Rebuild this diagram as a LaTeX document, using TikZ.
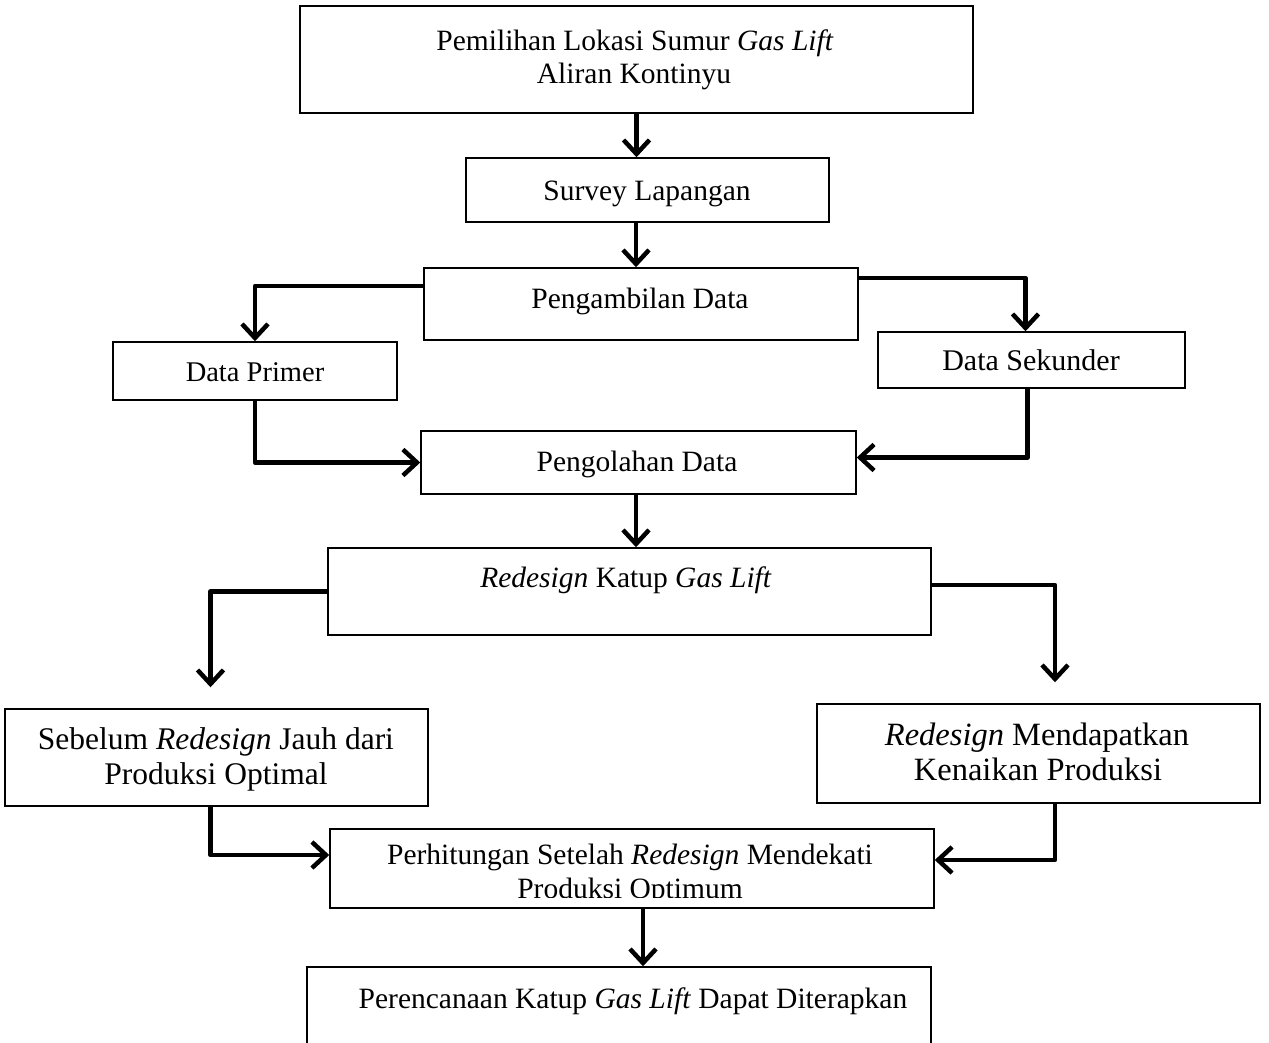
\documentclass[tikz,border=0pt]{standalone}
\usepackage{fontspec}
\setmainfont{Liberation Serif}
\usetikzlibrary{arrows.meta}
\begin{document}
\begin{tikzpicture}[x=1pt,y=-1pt,
  box/.style={draw, line width=1.5pt, inner sep=0pt, rectangle},
  lbl/.style={anchor=base, inner sep=0pt, font=\fontsize{29.5}{35}\selectfont},
  lblA/.style={lbl, font=\fontsize{28.5}{34}\selectfont},
  lblB/.style={lbl, font=\fontsize{30}{36}\selectfont},
  lblC/.style={lbl, font=\fontsize{31.5}{37}\selectfont},
  lblD/.style={lbl, font=\fontsize{32.5}{38}\selectfont},
  conn/.style={line width=4.5pt, line join=round, -{Straight Barb[length=14pt,width=26pt]}}]
\useasboundingbox (0,0) rectangle (1269,1042);
\clip (0,0) rectangle (1269,1042);
\fill[white] (0,0) rectangle (1269,1042);
% boxes
\node[box, minimum width=673, minimum height=107] (b1) at (636.5,59.5) {};
\node[box, minimum width=363, minimum height=64] (b2) at (647.5,190) {};
\node[box, minimum width=434, minimum height=72] (b3) at (641,304) {};
\node[box, minimum width=284, minimum height=58] (b4) at (255,371) {};
\node[box, minimum width=307, minimum height=56] (b5) at (1031.5,360) {};
\node[box, minimum width=435, minimum height=63] (b6) at (638.5,462.5) {};
\node[box, minimum width=603, minimum height=87] (b7) at (629.5,591.5) {};
\node[box, minimum width=423, minimum height=97] (b8) at (216.5,757.5) {};
\node[box, minimum width=443, minimum height=99] (b9) at (1038.5,753.5) {};
\node[box, minimum width=604, minimum height=79] (b10) at (632,868.5) {};
\node[box, minimum width=624, minimum height=123] (b11) at (619,1028.5) {};
% texts
\node[lbl] (t1a) at (635,50) {Pemilihan Lokasi Sumur \textit{Gas Lift}};
\node[lbl] (t1b) at (634,83) {Aliran Kontinyu};
\node[lbl] (t2) at (647,200) {Survey Lapangan};
\node[lbl] (t3) at (640,308) {Pengambilan Data};
\node[lblA] (t4) at (255,381) {Data Primer};
\node[lblB] (t5) at (1031,370) {Data Sekunder};
\node[lbl] (t6) at (637,471) {Pengolahan Data};
\node[lbl] (t7) at (626,587) {\textit{Redesign} Katup \textit{Gas Lift}};
\node[lblC] (t8a) at (216,749) {Sebelum \textit{Redesign} Jauh dari};
\node[lblC] (t8b) at (216,784) {Produksi Optimal};
\node[lblD] (t9a) at (1037,745) {\textit{Redesign} Mendapatkan};
\node[lblD] (t9b) at (1038,780) {Kenaikan Produksi};
\node[lbl] (t10a) at (630,864) {Perhitungan Setelah \textit{Redesign} Mendekati};
\begin{scope}
\clip (330,870) rectangle (934,897);
\node[lbl] (t10b) at (630,898) {Produksi Optimum};
\end{scope}
\node[lbl] (t11) at (633,1008) {Perencanaan Katup \textit{Gas Lift} Dapat Diterapkan};
% connectors
\draw[conn] (b1.south) -- (b1.south |- b2.north);
\draw[conn] ([xshift=-11.5pt]b2.south) -- ([xshift=-11.5pt]b2.south |- b3.north);
\draw[conn] ([yshift=18pt]b3.west) -| (b4.north);
\draw[conn] ([yshift=26pt]b3.east) -| ([xshift=-6pt]b5.north);
\draw[conn] (b4.south) |- (b6.west);
\draw[conn] ([xshift=-4pt]b5.south) |- ([yshift=5pt]b6.east);
\draw[conn] ([xshift=-2.5pt]b6.south) -- ([xshift=-2.5pt]b6.south |- b7.north);
\draw[conn] (b7.west) -| ([xshift=-6pt,yshift=21pt]b8.north);
\draw[conn] ([yshift=6.5pt]b7.east) -| ([xshift=16.5pt,yshift=21pt]b9.north);
\draw[conn] ([xshift=-6pt]b8.south) |- ([yshift=13.5pt]b10.west);
\draw[conn] ([xshift=16.5pt]b9.south) |- ([yshift=8.5pt]b10.east);
\draw[conn] ([xshift=11pt]b10.south) -- ([xshift=11pt]b10.south |- b11.north);
\end{tikzpicture}
\end{document}
